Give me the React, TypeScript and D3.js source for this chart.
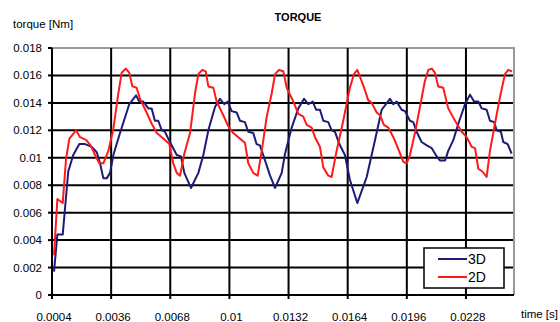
import React from "react";
import * as d3 from "d3";

// torque traces, vertices (time in s, torque in Nm)
const time3D = [
  0.00051, 0.00069, 0.00098, 0.00128, 0.00155, 0.00188, 0.00219, 0.00255, 0.00282, 0.003,
  0.00318, 0.00336, 0.00354, 0.00372, 0.00408, 0.00458, 0.00495, 0.00512, 0.00534, 0.00561,
  0.00579, 0.00597, 0.00615, 0.00634, 0.00651, 0.00669, 0.00688, 0.00715, 0.00738, 0.00756,
  0.00792, 0.00832, 0.00859, 0.00886, 0.00922, 0.00949, 0.00972, 0.00991, 0.01012, 0.01039,
  0.01057, 0.01084, 0.01102, 0.01129, 0.01147, 0.01165, 0.01183, 0.0122, 0.01247, 0.01283,
  0.01301, 0.01337, 0.01373, 0.01404, 0.01427, 0.01451, 0.01469, 0.0149, 0.01508, 0.01535,
  0.01553, 0.01571, 0.01595, 0.01625, 0.01652, 0.01692, 0.01743, 0.01788, 0.01824, 0.01869,
  0.01887, 0.01905, 0.01932, 0.0195, 0.01977, 0.01995, 0.02013, 0.0204, 0.02068, 0.02095,
  0.02122, 0.0214, 0.02167, 0.02184, 0.02212, 0.02239, 0.02275, 0.02302, 0.02324, 0.02347,
  0.02365, 0.02392, 0.0241, 0.02433, 0.02446, 0.02469, 0.02482, 0.02506, 0.02527,
];
const torque3D = [
  0.0017, 0.0044, 0.0044, 0.009, 0.0102, 0.011, 0.011, 0.0108, 0.0104, 0.0096,
  0.0085, 0.0085, 0.0089, 0.0102, 0.0118, 0.0139, 0.01455, 0.0141, 0.0141, 0.0136,
  0.0136, 0.0127, 0.0127, 0.012, 0.0119, 0.0114, 0.0109, 0.0102, 0.0101, 0.0089,
  0.0078, 0.0089, 0.0102, 0.012, 0.0137, 0.0143, 0.0139, 0.0141, 0.0134, 0.0133,
  0.0127, 0.0126, 0.0119, 0.0118, 0.011, 0.0109, 0.0102, 0.0087, 0.0078, 0.0089,
  0.0103, 0.0122, 0.0136, 0.0143, 0.0139, 0.0141, 0.0135, 0.0135, 0.0127, 0.0126,
  0.012, 0.0119, 0.011, 0.0102, 0.0084, 0.0067, 0.0086, 0.0113, 0.0135, 0.0143,
  0.0139, 0.0141, 0.0135, 0.0134, 0.0127, 0.0126, 0.0119, 0.01115, 0.0109, 0.0107,
  0.0101, 0.0098, 0.0098, 0.0105, 0.0113, 0.0125, 0.0139, 0.0146, 0.0141, 0.0141,
  0.0136, 0.0135, 0.0127, 0.0126, 0.012, 0.0119, 0.01115, 0.011, 0.0103,
];

const time2D = [
  0.00051, 0.00069, 0.00098, 0.00116, 0.00134, 0.0017, 0.00192, 0.00224, 0.00249, 0.00273,
  0.00296, 0.00318, 0.00345, 0.00372, 0.00399, 0.00417, 0.00439, 0.00458, 0.00475, 0.00498,
  0.00516, 0.00552, 0.00579, 0.00607, 0.00642, 0.00675, 0.00696, 0.00715, 0.00733, 0.00756,
  0.00787, 0.00814, 0.00832, 0.00853, 0.00872, 0.00886, 0.00913, 0.00931, 0.00967, 0.00994,
  0.01021, 0.01048, 0.01084, 0.01102, 0.01129, 0.01153, 0.01175, 0.01202, 0.01229, 0.01247,
  0.01268, 0.01292, 0.0131, 0.01346, 0.01373, 0.014, 0.01418, 0.01445, 0.01463, 0.0149,
  0.01508, 0.01535, 0.01553, 0.0158, 0.01616, 0.01652, 0.01674, 0.01692, 0.01724, 0.01751,
  0.0177, 0.01797, 0.01815, 0.01836, 0.0186, 0.01887, 0.01918, 0.01941, 0.01959, 0.01977,
  0.02004, 0.02031, 0.02058, 0.02076, 0.02095, 0.02112, 0.0213, 0.02157, 0.02184, 0.02221,
  0.02257, 0.02284, 0.02311, 0.02329, 0.02347, 0.02369, 0.02392, 0.0241, 0.02437, 0.02464,
  0.02491, 0.02509, 0.0253,
];
const torque2D = [
  0.0029, 0.007, 0.0067, 0.0099, 0.0114, 0.012, 0.0115, 0.0113, 0.0109, 0.0102,
  0.0096, 0.0096, 0.0105, 0.0121, 0.0147, 0.0162, 0.0165, 0.0162, 0.0152, 0.0151,
  0.0143, 0.0133, 0.0125, 0.0118, 0.0114, 0.011, 0.0096, 0.0089, 0.0087, 0.0103,
  0.0118, 0.0147, 0.0161, 0.0164, 0.0163, 0.0152, 0.0151, 0.0141, 0.0131, 0.0123,
  0.0118, 0.0115, 0.0111, 0.0096, 0.0089, 0.0087, 0.0105, 0.013, 0.0147, 0.0161,
  0.0164, 0.0163, 0.0151, 0.0141, 0.0132, 0.013, 0.0124, 0.0122, 0.0115, 0.0108,
  0.0093, 0.0087, 0.0086, 0.0105, 0.0127, 0.0151, 0.0161, 0.0164, 0.0153, 0.0142,
  0.014, 0.0133, 0.0131, 0.0124, 0.0122, 0.0115, 0.0105, 0.0097, 0.0096, 0.0102,
  0.0118, 0.0137, 0.0156, 0.0164, 0.0165, 0.0162, 0.0152, 0.0151, 0.0136, 0.0127,
  0.0119, 0.0115, 0.0108, 0.0107, 0.0092, 0.009, 0.0086, 0.0105, 0.0125, 0.0144,
  0.0161, 0.0164, 0.0163,
];

const xTicks = [0.0004, 0.0036, 0.0068, 0.01, 0.0132, 0.0164, 0.0196, 0.0228];
const yTicks = [0, 0.002, 0.004, 0.006, 0.008, 0.01, 0.012, 0.014, 0.016, 0.018];
const seriesNames = ["3D", "2D"];
const seriesColors = ["#1c1c78", "#ff1a1a"];

const width = 560;
const height = 322;
const left = 52;
const right = 514;
const top = 48;
const bottom = 295;
const font = "'Liberation Sans', Arial, sans-serif";

export default function App() {
  const x = d3.scaleLinear().domain([0.0004, 0.0254]).range([left, right]);
  const y = d3.scaleLinear().domain([0, 0.018]).range([bottom, top]);

  const line = d3
    .line<[number, number]>()
    .x((d) => x(d[0]))
    .y((d) => y(d[1]));

  const series = [
    time3D.map((t, i) => [t, torque3D[i]] as [number, number]),
    time2D.map((t, i) => [t, torque2D[i]] as [number, number]),
  ];

  return (
    <svg
      width={width}
      height={height}
      style={{ position: "absolute", left: 0, top: 0, background: "#fff" }}
      fontFamily={font}
    >
      {/* horizontal grid */}
      {yTicks.map((v) => (
        <line
          key={"h" + v}
          x1={left}
          x2={right}
          y1={y(v)}
          y2={y(v)}
          stroke={v === 0.018 ? "#999" : "#000"}
          strokeWidth={2}
        />
      ))}
      {/* vertical grid */}
      {xTicks.map((v) => (
        <line key={"v" + v} x1={x(v)} x2={x(v)} y1={top} y2={bottom + 4} stroke="#000" strokeWidth={2} />
      ))}
      <line x1={right} x2={right} y1={top - 1} y2={bottom} stroke="#999" strokeWidth={2} />
      {/* axes */}
      <line x1={left} x2={left} y1={top} y2={bottom} stroke="#000" strokeWidth={2} />
      <line x1={left} x2={right} y1={bottom} y2={bottom} stroke="#000" strokeWidth={2} />
      {yTicks.map((v) => (
        <g key={"yt" + v}>
          <line x1={left - 4} x2={left} y1={y(v)} y2={y(v)} stroke="#000" strokeWidth={2} />
          <text x={42} y={y(v)} dy="0.35em" textAnchor="end" fontSize={11.5} fill="#000">
            {String(v)}
          </text>
        </g>
      ))}
      {xTicks.map((v) => (
        <text key={"xt" + v} x={x(v) + 2} y={321} textAnchor="middle" fontSize={11.5} fill="#000">
          {String(v)}
        </text>
      ))}

      {series.map((s, i) => (
        <path
          key={seriesNames[i]}
          d={line(s) || ""}
          fill="none"
          stroke={seriesColors[i]}
          strokeWidth={2}
          strokeLinejoin="round"
        />
      ))}

      {/* legend */}
      <rect x={424} y={248} width={80} height={40} fill="#fff" stroke="#000" strokeWidth={1.5} />
      {seriesNames.map((n, i) => (
        <g key={"lg" + n}>
          <line x1={438} x2={467} y1={259 + i * 18} y2={259 + i * 18} stroke={seriesColors[i]} strokeWidth={2} />
          <text x={468} y={259 + i * 18} dy="0.35em" fontSize={14} fill="#000">
            {n}
          </text>
        </g>
      ))}

      <text x={13} y={28} fontSize={11.5} fill="#000">
        torque [Nm]
      </text>
      <text x={298} y={21} textAnchor="middle" fontSize={11} fontWeight="bold" fill="#000">
        TORQUE
      </text>
      <text x={558} y={318} textAnchor="end" fontSize={11.5} fill="#000">
        time [s]
      </text>
    </svg>
  );
}
